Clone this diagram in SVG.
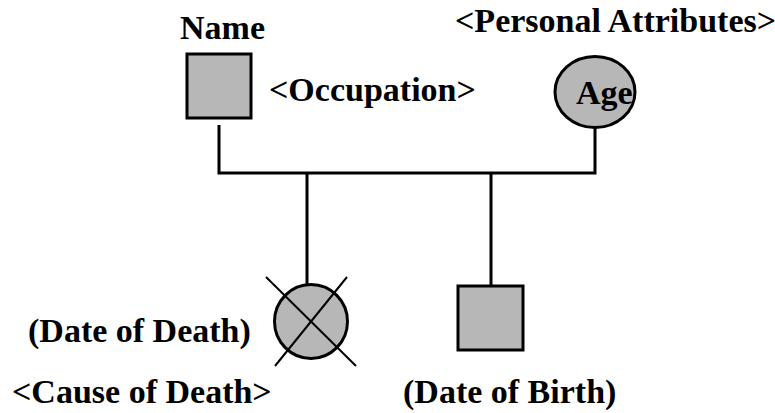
<svg xmlns="http://www.w3.org/2000/svg" width="775" height="413" viewBox="0 0 775 413">
<style>
text{font-family:"Liberation Serif","Times New Roman",Times,"DejaVu Serif",serif;font-weight:700;font-size:34px;fill:#000}
.shape{fill:#b7b7b7;stroke:#000;stroke-width:3}
.line{fill:none;stroke:#000;stroke-width:3}
.cross{stroke:#000;stroke-width:2}
</style>
<rect width="775" height="413" fill="#fff"/>
<g id="connectors">
<polyline class="line" points="219,125 219,173 595,173 595,128"/>
<line class="line" x1="307" y1="173" x2="307" y2="285"/>
<line class="line" x1="491" y1="173" x2="491" y2="286"/>
</g>
<g id="name">
<rect class="shape" x="187" y="54" width="64" height="64"/>
<text x="180" y="39">Name</text>
<text x="269" y="101">&lt;Occupation&gt;</text>
</g>
<g id="age">
<ellipse class="shape" cx="595" cy="92" rx="40" ry="35.5"/>
<text x="576" y="104">Age</text>
<text x="455" y="32" font-size="34.5">&lt;Personal Attributes&gt;</text>
</g>
<g id="deceased">
<ellipse class="shape" cx="311" cy="321.5" rx="36.5" ry="37"/>
<line class="cross" x1="266" y1="277" x2="356" y2="366"/>
<line class="cross" x1="347" y1="277" x2="275" y2="366"/>
<text x="28" y="342">(Date of Death)</text>
<text x="12" y="403">&lt;Cause of Death&gt;</text>
</g>
<g id="child">
<rect class="shape" x="458" y="286" width="65" height="64"/>
<text x="403" y="403">(Date of Birth)</text>
</g>
</svg>
